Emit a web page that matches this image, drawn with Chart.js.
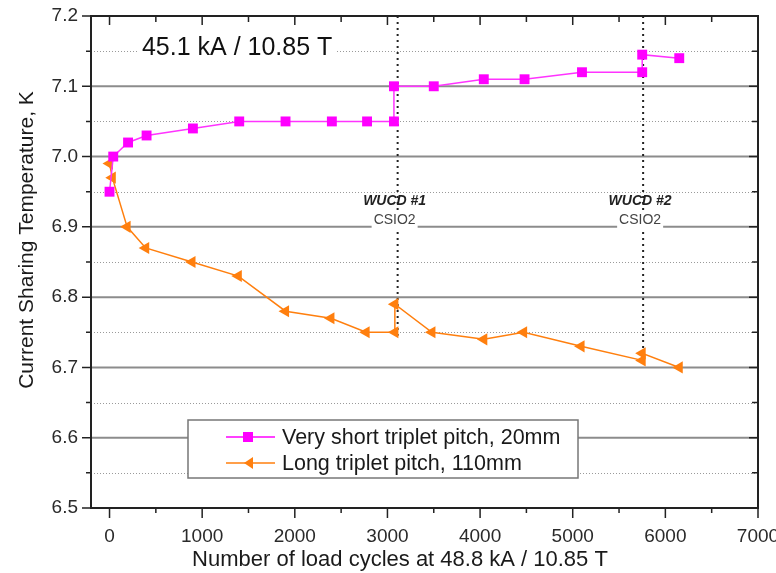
<!DOCTYPE html>
<html>
<head>
<meta charset="utf-8">
<script src="https://cdn.jsdelivr.net/npm/chart.js@4.4.1/dist/chart.umd.min.js"></script>
<style>
  html, body { margin: 0; padding: 0; background: #fff; }
  canvas { display: block; }
</style>
</head>
<body>
<canvas id="chart" width="776" height="573"></canvas>
<script>
// Данные
const shortPitchX = [0, 40, 200, 400, 900, 1400, 1900, 2400, 2780, 3070, 3070, 3500, 4040, 4480, 5100, 5750, 5750, 6150];
const shortPitchY = [6.95, 7.00, 7.02, 7.03, 7.04, 7.05, 7.05, 7.05, 7.05, 7.05, 7.10, 7.10, 7.11, 7.11, 7.12, 7.12, 7.145, 7.14];
const longPitchX = [0, 30, 190, 390, 890, 1390, 1900, 2390, 2770, 3080, 3080, 3480, 4040, 4470, 5090, 5750, 5750, 6150];
const longPitchY = [6.99, 6.97, 6.90, 6.87, 6.85, 6.83, 6.78, 6.77, 6.75, 6.75, 6.79, 6.75, 6.74, 6.75, 6.73, 6.71, 6.72, 6.70];

const seriesNames = ["Very short triplet pitch, 20mm", "Long triplet pitch, 110mm"];

// Оси
const xTicks = [0, 1000, 2000, 3000, 4000, 5000, 6000, 7000];
const xMinorTicks = [500, 1500, 2500, 3500, 4500, 5500, 6500];
const yTicks = [6.5, 6.6, 6.7, 6.8, 6.9, 7.0, 7.1, 7.2];
const yMinorTicks = [6.55, 6.65, 6.75, 6.85, 6.95, 7.05, 7.15];

// Отметки WUCD
const wucdX = [3110, 5760];
const wucdLow = [6.745, 6.705];
const wucdNames = ["WUCD #1", "WUCD #2"];
const wucdSub = "CSIO2";
const headerText = "45.1 kA / 10.85 T";

const PINK = "#ff00ff";
const ORANGE = "#ff7f0e";
const FONT = "'Liberation Sans', Arial, sans-serif";

function toPoints(xs, ys) {
  return xs.map((x, i) => ({ x, y: ys[i] }));
}

// Сетка, метки WUCD и подписи
const decor = {
  id: "decor",
  beforeDatasetsDraw(chart) {
    const ctx = chart.ctx;
    const { left, right, top } = chart.chartArea;
    const xs = chart.scales.x, ys = chart.scales.y;
    ctx.save();
    // пунктирные промежуточные линии
    ctx.strokeStyle = "#9a9a9a";
    ctx.lineWidth = 1;
    ctx.setLineDash([1, 2]);
    yMinorTicks.forEach(v => {
      const py = Math.round(ys.getPixelForValue(v)) + 0.5;
      ctx.beginPath(); ctx.moveTo(left, py); ctx.lineTo(right, py); ctx.stroke();
    });
    // основные линии
    ctx.setLineDash([]);
    ctx.strokeStyle = "#8c8c8c";
    ctx.lineWidth = 2;
    yTicks.slice(1, -1).forEach(v => {
      const py = ys.getPixelForValue(v);
      ctx.beginPath(); ctx.moveTo(left, py); ctx.lineTo(right, py); ctx.stroke();
    });
    // вертикальные линии WUCD
    ctx.strokeStyle = "#222";
    ctx.lineWidth = 2;
    ctx.setLineDash([2, 4]);
    wucdX.forEach((v, i) => {
      const px = xs.getPixelForValue(v);
      ctx.beginPath(); ctx.moveTo(px, top); ctx.lineTo(px, ys.getPixelForValue(wucdLow[i])); ctx.stroke();
    });
    ctx.setLineDash([]);
    // подписи WUCD
    ctx.textAlign = "center";
    ctx.textBaseline = "middle";
    wucdX.forEach((v, i) => {
      const px = xs.getPixelForValue(v) - 3;
      ctx.font = "italic bold 14px " + FONT;
      ctx.fillStyle = "#222";
      ctx.fillText(wucdNames[i], px, ys.getPixelForValue(6.937));
      ctx.font = "14px " + FONT;
      const w = ctx.measureText(wucdSub).width;
      const cy = ys.getPixelForValue(6.91);
      ctx.fillStyle = "#fff";
      ctx.fillRect(px - w / 2 - 2, cy - 8, w + 4, 18);
      ctx.fillStyle = "#444";
      ctx.fillText(wucdSub, px, cy);
    });
    // заголовок в поле графика
    ctx.font = "25px " + FONT;
    ctx.textAlign = "left";
    const hx = xs.getPixelForValue(350), hy = ys.getPixelForValue(7.155);
    const hw = ctx.measureText(headerText).width;
    ctx.fillStyle = "#fff";
    ctx.fillRect(hx - 3, hy - 12, hw + 6, 24);
    ctx.fillStyle = "#111";
    ctx.fillText(headerText, hx, hy);
    ctx.restore();
  },
  afterDatasetsDraw(chart) {
    const ctx = chart.ctx;
    ctx.save();
    // легенда
    const bx = 188, by = 420, bw = 390, bh = 58;
    ctx.fillStyle = "#fff";
    ctx.fillRect(bx, by, bw, bh);
    ctx.strokeStyle = "#777";
    ctx.lineWidth = 1.5;
    ctx.strokeRect(bx, by, bw, bh);
    const rows = [by + 17, by + 43];
    const colors = [PINK, ORANGE];
    ctx.lineWidth = 1.5;
    rows.forEach((ry, i) => {
      ctx.strokeStyle = colors[i];
      ctx.beginPath(); ctx.moveTo(226, ry); ctx.lineTo(275, ry); ctx.stroke();
      ctx.fillStyle = colors[i];
      ctx.beginPath();
      if (i === 0) {
        ctx.rect(248 - 5, ry - 5, 10, 10);
      } else {
        ctx.moveTo(244, ry); ctx.lineTo(253, ry - 6); ctx.lineTo(253, ry + 6); ctx.closePath();
      }
      ctx.fill();
      ctx.fillStyle = "#1a1a1a";
      ctx.font = "21.5px " + FONT;
      ctx.textAlign = "left";
      ctx.textBaseline = "middle";
      ctx.fillText(seriesNames[i], 282, ry + 1);
    });
    ctx.restore();
  },
  afterDraw(chart) {
    const ctx = chart.ctx;
    const { left, right, top, bottom } = chart.chartArea;
    const xs = chart.scales.x, ys = chart.scales.y;
    ctx.save();
    ctx.strokeStyle = "#222";
    ctx.lineWidth = 1.5;
    ctx.beginPath();
    xTicks.forEach(v => {
      const px = xs.getPixelForValue(v);
      ctx.moveTo(px, bottom); ctx.lineTo(px, bottom + 10);
      ctx.moveTo(px, top); ctx.lineTo(px, top + 9);
    });
    xMinorTicks.forEach(v => {
      const px = xs.getPixelForValue(v);
      ctx.moveTo(px, bottom); ctx.lineTo(px, bottom + 5);
      ctx.moveTo(px, top); ctx.lineTo(px, top + 6);
    });
    yTicks.forEach(v => {
      const py = ys.getPixelForValue(v);
      ctx.moveTo(left, py); ctx.lineTo(left - 9, py);
      ctx.moveTo(right, py); ctx.lineTo(right - 9, py);
    });
    yMinorTicks.forEach(v => {
      const py = ys.getPixelForValue(v);
      ctx.moveTo(left, py); ctx.lineTo(left - 5, py);
      ctx.moveTo(right, py); ctx.lineTo(right - 6, py);
    });
    ctx.stroke();
    // рамка
    ctx.lineWidth = 2;
    ctx.strokeRect(left, top, right - left, bottom - top);
    // подписи осей
    ctx.fillStyle = "#1a1a1a";
    ctx.font = "22px " + FONT;
    ctx.textAlign = "center";
    ctx.textBaseline = "middle";
    ctx.fillText("Number of load cycles at 48.8 kA / 10.85 T", 400, 560);
    ctx.translate(27, 240);
    ctx.rotate(-Math.PI / 2);
    ctx.font = "21px " + FONT;
    ctx.fillText("Current Sharing Temperature, K", 0, 0);
    ctx.restore();
  }
};

new Chart(document.getElementById("chart"), {
  type: "scatter",
  data: {
    datasets: [
      {
        label: seriesNames[0],
        data: toPoints(shortPitchX, shortPitchY),
        showLine: true,
        borderColor: "#ff33ff",
        backgroundColor: PINK,
        borderWidth: 1.5,
        pointStyle: "rect",
        pointRadius: 7,
        pointBorderWidth: 0
      },
      {
        label: seriesNames[1],
        data: toPoints(longPitchX, longPitchY),
        showLine: true,
        borderColor: ORANGE,
        backgroundColor: ORANGE,
        borderWidth: 1.5,
        pointStyle: "triangle",
        pointRotation: -90,
        pointRadius: 7,
        pointBorderWidth: 0
      }
    ]
  },
  options: {
    responsive: false,
    animation: false,
    layout: { padding: { left: 0, top: 16, right: 18, bottom: 0 } },
    plugins: { legend: { display: false }, tooltip: { enabled: false } },
    scales: {
      x: {
        type: "linear",
        min: -200,
        max: 7000,
        afterBuildTicks: s => { s.ticks = xTicks.map(v => ({ value: v })); },
        afterFit: s => { s.height = 65; s.paddingLeft = 0; s.paddingRight = 0; },
        grid: { display: true, drawOnChartArea: false, drawTicks: false },
        border: { display: false },
        ticks: { padding: 17, color: "#2a2a2a", font: { family: FONT, size: 19 }, maxRotation: 0, callback: v => String(v) }
      },
      y: {
        min: 6.5,
        max: 7.2,
        afterBuildTicks: s => { s.ticks = yTicks.map(v => ({ value: v })); },
        afterFit: s => { s.width = 91; s.paddingTop = 0; s.paddingBottom = 0; },
        grid: { display: true, drawOnChartArea: false, drawTicks: false },
        border: { display: false },
        ticks: { padding: 13, color: "#2a2a2a", font: { family: FONT, size: 19 }, callback: v => v.toFixed(1) }
      }
    }
  },
  plugins: [decor]
});
</script>
</body>
</html>
